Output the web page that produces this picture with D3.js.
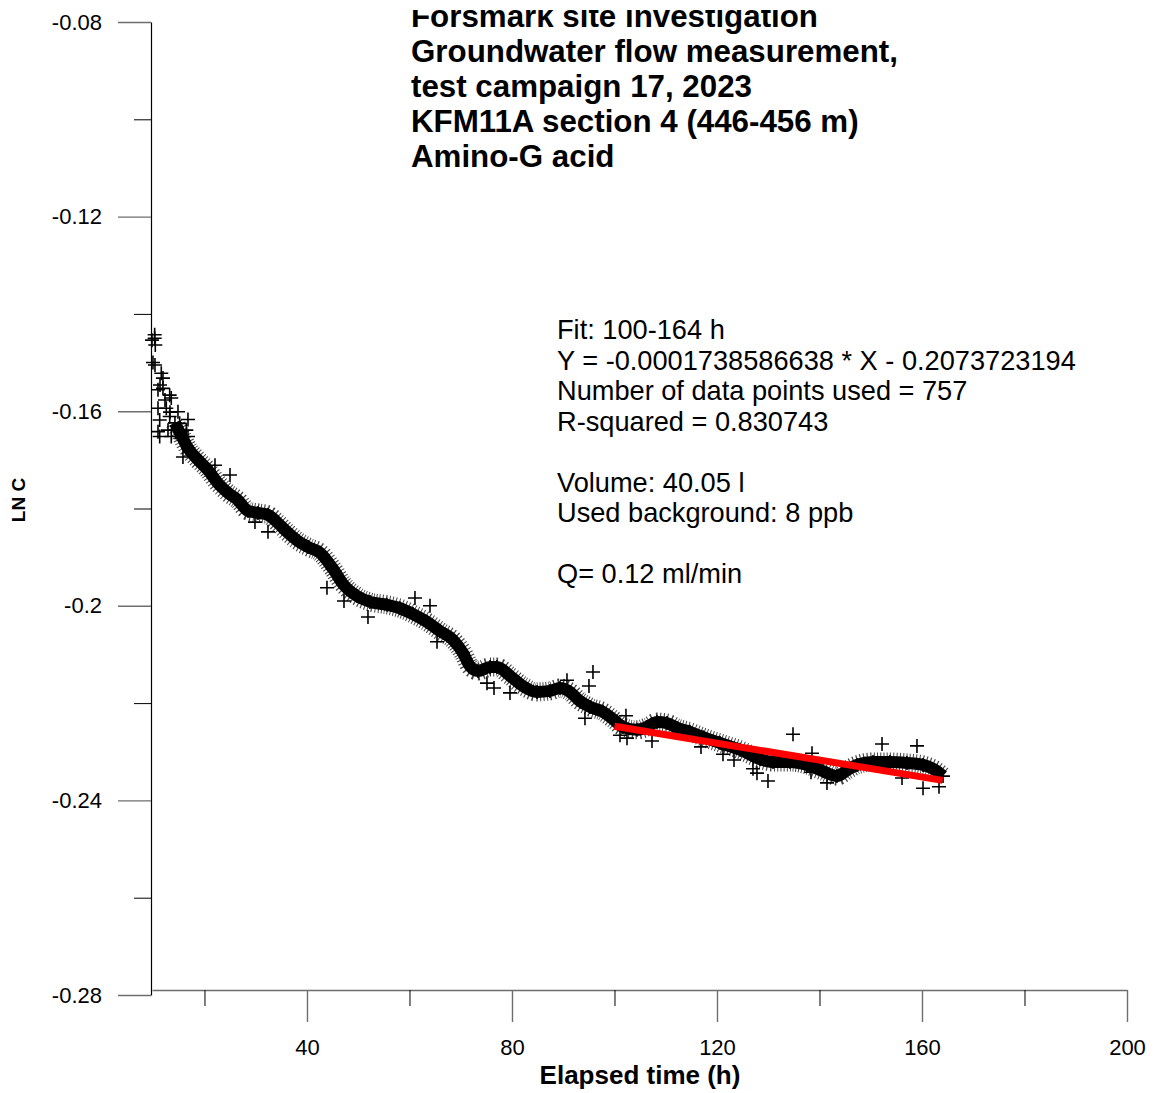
<!DOCTYPE html>
<html>
<head>
<meta charset="utf-8">
<script src="https://cdn.jsdelivr.net/npm/d3@7/dist/d3.min.js"></script>
<style>
    body { margin: 0; background: #fff; }
    text { font-family: "Liberation Sans", Arial, sans-serif; }
</style>
</head>
<body>
<div id="chart"></div>
<script>
// main band of readings (elapsed time h, LN C)
const bandTime = [9.76, 10.34, 11.32, 12.29, 13.27, 14.24, 15.61, 16.78, 18.73, 20.68, 22.63, 24.59, 26.54, 28.49,
    30.44, 32.39, 34.34, 36.29, 38.24, 40.20, 42.54, 45.07, 47.02, 49.76, 52.29, 55.61, 58.15, 60.68, 63.41, 65.95,
    68.49, 70.44, 71.80, 73.37, 75.71, 77.07, 79.61, 82.15, 84.88, 87.41, 89.37, 91.32, 93.27, 95.22, 97.76, 99.71,
    101.66, 104.39, 106.34, 108.29, 110.24, 112.20, 114.73, 117.27, 120.59, 124.49, 128.39, 130.93, 134.24, 137.56,
    140.68, 143.41, 145.37, 147.32, 150.44, 153.76, 157.07, 160.20, 162.93, 164.10];
const bandLnC = [-0.1454, -0.1505, -0.1546, -0.1577, -0.1602, -0.1624, -0.1653, -0.1676, -0.1700, -0.1721, -0.1748,
    -0.1768, -0.1783, -0.1805, -0.1809, -0.1813, -0.1830, -0.1850, -0.1867, -0.1879, -0.1891, -0.1924, -0.1955,
    -0.1980, -0.1992, -0.1998, -0.2005, -0.2017, -0.2033, -0.2052, -0.2070, -0.2097, -0.2124, -0.2134, -0.2126,
    -0.2126, -0.2144, -0.2165, -0.2177, -0.2175, -0.2169, -0.2177, -0.2196, -0.2208, -0.2218, -0.2233, -0.2249,
    -0.2255, -0.2249, -0.2239, -0.2241, -0.2251, -0.2259, -0.2270, -0.2282, -0.2296, -0.2315, -0.2321, -0.2321,
    -0.2327, -0.2340, -0.2350, -0.2338, -0.2327, -0.2321, -0.2321, -0.2323, -0.2327, -0.2340, -0.2350];

// scattered early readings and outliers
const scatterTime = [10.28, 10.28, 10.40, 9.95, 11.57, 11.90, 10.93, 11.90, 13.21, 13.52, 10.93, 12.55, 14.83, 11.26,
    13.21, 15.16, 16.78, 10.93, 12.88, 14.83, 16.45, 11.26, 13.52, 15.47, 16.78, 15.80, 22.05, 24.98, 29.85, 32.39,
    43.90, 47.22, 51.90, 61.07, 64.00, 65.37, 75.12, 76.49, 79.61, 90.73, 95.80, 95.02, 94.24, 102.24, 101.07, 102.44,
    107.32, 116.88, 121.17, 123.32, 127.02, 127.80, 129.95, 134.83, 138.34, 138.54, 141.46, 152.20, 159.02, 156.10,
    160.20, 163.32];
const scatterLnC = [-0.1443, -0.1450, -0.1464, -0.1500, -0.1522, -0.1532, -0.1556, -0.1553, -0.1567, -0.1573,
    -0.1594, -0.1594, -0.1601, -0.1618, -0.1611, -0.1625, -0.1617, -0.1642, -0.1639, -0.1639, -0.1639, -0.1652,
    -0.1652, -0.1656, -0.1652, -0.1694, -0.1711, -0.1731, -0.1828, -0.1848, -0.1963, -0.1990, -0.2023, -0.1984,
    -0.2000, -0.2074, -0.2159, -0.2169, -0.2179, -0.2153, -0.2136, -0.2165, -0.2231, -0.2226, -0.2266, -0.2272,
    -0.2278, -0.2290, -0.2305, -0.2317, -0.2335, -0.2344, -0.2360, -0.2264, -0.2342, -0.2303, -0.2364, -0.2284,
    -0.2288, -0.2354, -0.2375, -0.2372];

// linear fit
const fitRange = [100, 164];
const fitSlope = -0.0001738586638;
const fitIntercept = -0.2073723194;

const yTicks = [-0.08, -0.12, -0.16, -0.2, -0.24, -0.28];
const yMinorTicks = [-0.10, -0.14, -0.18, -0.22, -0.26];
const xTicks = [40, 80, 120, 160, 200];
const xMinorTicks = [20, 60, 100, 140, 180];

const titleLines = [
    'Forsmark site investigation',
    'Groundwater flow measurement,',
    'test campaign 17, 2023',
    'KFM11A section 4 (446-456 m)',
    'Amino-G acid'
];
const noteLines = [
    'Fit: 100-164 h',
    'Y = -0.0001738586638 * X - 0.2073723194',
    'Number of data points used = 757',
    'R-squared = 0.830743',
    '',
    'Volume: 40.05 l',
    'Used background: 8 ppb',
    '',
    'Q= 0.12 ml/min'
];

const WIDTH = 1157, HEIGHT = 1093;

const svg = d3.select('#chart').append('svg')
    .attr('width', WIDTH)
    .attr('height', HEIGHT);

svg.append('rect').attr('width', WIDTH).attr('height', HEIGHT).attr('fill', '#fff');

const x = d3.scaleLinear().domain([9.76, 200]).range([152, 1127]);
const y = d3.scaleLinear().domain([-0.28, -0.08]).range([995, 22]);

// y axis
const yAxis = svg.append('g')
    .attr('transform', `translate(${x(9.76) - 1}, 0)`)
    .call(d3.axisLeft(y).tickValues(yTicks).tickSize(33).tickSizeOuter(0).tickPadding(16)
        .tickFormat(d => String(d)));
yAxis.select('.domain').attr('stroke', '#000').attr('stroke-width', 1.2);
yAxis.selectAll('.tick line').attr('stroke', '#6e6e6e').attr('stroke-width', 1.4);
yAxis.selectAll('.tick text').attr('font-size', 22).attr('fill', '#000')
    .attr('font-family', '"Liberation Sans", Arial, sans-serif');

svg.append('g')
    .attr('transform', `translate(${x(9.76) - 1}, 0)`)
    .call(d3.axisLeft(y).tickValues(yMinorTicks).tickSize(17).tickFormat(''))
    .call(g => g.select('.domain').remove())
    .selectAll('.tick line').attr('stroke', '#000').attr('stroke-width', 1);

// x axis
const xBase = y(-0.28) - 5;
const xAxis = svg.append('g')
    .attr('transform', `translate(0, ${xBase})`)
    .call(d3.axisBottom(x).tickValues(xTicks).tickSize(32).tickSizeOuter(0).tickPadding(17)
        .tickFormat(d => String(d)));
xAxis.select('.domain').attr('stroke', '#6e6e6e').attr('stroke-width', 1.6);
xAxis.selectAll('.tick line').attr('stroke', '#6e6e6e').attr('stroke-width', 1.4);
xAxis.selectAll('.tick text').attr('font-size', 22).attr('fill', '#000')
    .attr('font-family', '"Liberation Sans", Arial, sans-serif');

svg.append('g')
    .attr('transform', `translate(0, ${xBase})`)
    .call(d3.axisBottom(x).tickValues(xMinorTicks).tickSize(16).tickFormat(''))
    .call(g => g.select('.domain').remove())
    .selectAll('.tick line').attr('stroke', '#000').attr('stroke-width', 1);

// axis titles
svg.append('text')
    .attr('x', 640).attr('y', 1084)
    .attr('text-anchor', 'middle')
    .attr('font-size', 26).attr('font-weight', 'bold')
    .text('Elapsed time (h)');

svg.append('text')
    .attr('transform', 'translate(25, 500) rotate(-90)')
    .attr('text-anchor', 'middle')
    .attr('font-size', 19).attr('font-weight', 'bold')
    .text('LN C');

// data
const band = bandTime.map((t, i) => ({t: t, v: bandLnC[i]}));
const scatter = scatterTime.map((t, i) => ({t: t, v: scatterLnC[i]}));

const bandLine = d3.line()
    .x(d => x(d.t))
    .y(d => y(d.v))
    .curve(d3.curveMonotoneX);

const bandData = band.filter(d => d.t >= 14);

// fuzzy fringe of the dense point band
svg.append('path')
    .datum(bandData)
    .attr('fill', 'none')
    .attr('stroke', '#000')
    .attr('stroke-width', 19)
    .attr('stroke-dasharray', '1 2.2')
    .attr('stroke-opacity', 0.75)
    .attr('d', bandLine);

svg.append('path')
    .datum(bandData)
    .attr('fill', 'none')
    .attr('stroke', '#000')
    .attr('stroke-width', 12)
    .attr('stroke-linejoin', 'round')
    .attr('d', bandLine);

const cross = (sel, data) => sel.selectAll(null)
    .data(data)
    .enter().append('path')
    .attr('transform', d => `translate(${x(d.t)}, ${y(d.v)})`)
    .attr('d', 'M-7,0H7M0,-7V7')
    .attr('stroke', '#000')
    .attr('stroke-width', 1.6)
    .attr('fill', 'none');

const marks = svg.append('g');
cross(marks, band);
cross(marks, scatter);

// fit line
svg.append('line')
    .attr('x1', x(fitRange[0])).attr('y1', y(fitSlope * fitRange[0] + fitIntercept))
    .attr('x2', x(fitRange[1])).attr('y2', y(fitSlope * fitRange[1] + fitIntercept))
    .attr('stroke', '#ff0000')
    .attr('stroke-width', 7);

// title, top clipped like the original
svg.append('clipPath').attr('id', 'titleClip')
    .append('rect').attr('x', 0).attr('y', 10).attr('width', WIDTH).attr('height', 200);

svg.append('g').attr('clip-path', 'url(#titleClip)')
    .selectAll('text')
    .data(titleLines)
    .enter().append('text')
    .attr('x', 411)
    .attr('y', (d, i) => 27 + i * 35)
    .attr('font-size', 31.3)
    .attr('font-weight', 'bold')
    .text(d => d);

svg.append('g')
    .selectAll('text')
    .data(noteLines)
    .enter().append('text')
    .attr('x', 557)
    .attr('y', (d, i) => 339 + i * 30.5)
    .attr('font-size', 27.2)
    .text(d => d);
</script>
</body>
</html>
